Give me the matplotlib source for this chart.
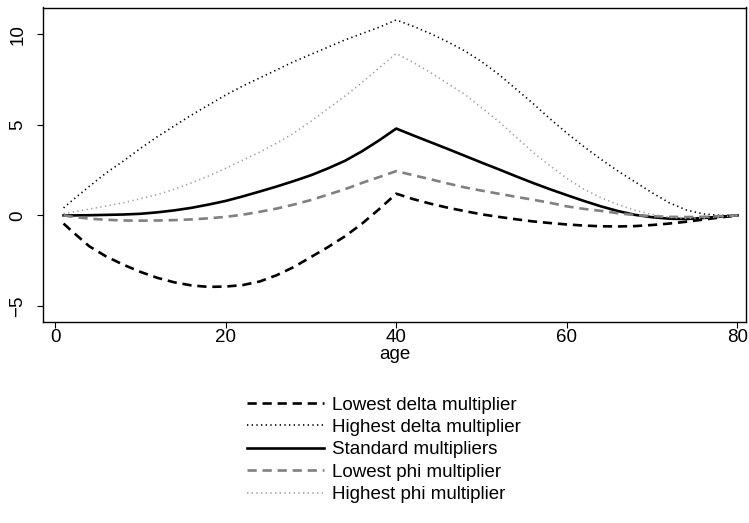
import matplotlib
matplotlib.use('Agg')
import matplotlib.pyplot as plt

plt.rcParams['font.family'] = ['Liberation Sans', 'DejaVu Sans']

# %%
age = [1, 2, 4, 6, 8, 10, 12, 14, 16, 18, 20, 22, 24, 26, 28, 30, 32, 34, 36, 38, 40,
       42, 44, 46, 48, 50, 52, 54, 56, 58, 60, 62, 64, 66, 68, 70, 72, 74, 76, 78, 80]

lowest_delta = [-0.45, -0.88, -1.7, -2.27, -2.72, -3.12, -3.45, -3.7, -3.87, -3.95, -3.93,
                -3.85, -3.65, -3.3, -2.85, -2.3, -1.75, -1.15, -0.45, 0.35, 1.2,
                0.9, 0.65, 0.43, 0.24, 0.06, -0.08, -0.21, -0.33, -0.42, -0.5,
                -0.56, -0.6, -0.61, -0.59, -0.53, -0.45, -0.35, -0.23, -0.11, 0.0]
highest_delta = [0.42, 0.82, 1.6, 2.35, 3.0, 3.7, 4.35, 4.95, 5.55, 6.1, 6.65,
                 7.15, 7.6, 8.05, 8.5, 8.9, 9.3, 9.7, 10.05, 10.4, 10.8,
                 10.45, 10.05, 9.6, 9.1, 8.5, 7.8, 7.0, 6.2, 5.35, 4.55,
                 3.8, 3.1, 2.45, 1.85, 1.25, 0.7, 0.3, 0.08, 0.0, 0.0]
standard = [0.0, 0.0, 0.01, 0.03, 0.05, 0.09, 0.17, 0.28, 0.42, 0.6, 0.8,
            1.05, 1.32, 1.6, 1.9, 2.22, 2.6, 3.02, 3.55, 4.15, 4.8,
            4.42, 4.05, 3.68, 3.3, 2.92, 2.55, 2.17, 1.8, 1.45, 1.12,
            0.8, 0.5, 0.24, 0.03, -0.1, -0.18, -0.2, -0.14, -0.07, 0.0]
lowest_phi = [0.0, -0.07, -0.18, -0.24, -0.28, -0.29, -0.28, -0.26, -0.22, -0.16, -0.08,
              0.04, 0.2, 0.38, 0.6, 0.85, 1.15, 1.45, 1.8, 2.12, 2.45,
              2.22, 2.0, 1.77, 1.55, 1.37, 1.2, 1.03, 0.87, 0.7, 0.5,
              0.36, 0.25, 0.12, 0.02, -0.04, -0.08, -0.09, -0.08, -0.04, 0.0]
highest_phi = [0.1, 0.18, 0.35, 0.52, 0.7, 0.92, 1.15, 1.45, 1.8, 2.18, 2.6,
               3.05, 3.5, 4.0, 4.55, 5.2, 5.9, 6.6, 7.35, 8.15, 8.95,
               8.45, 7.9, 7.3, 6.7, 5.95, 5.2, 4.35, 3.5, 2.75, 2.05,
               1.45, 0.98, 0.6, 0.28, 0.05, -0.1, -0.16, -0.14, -0.08, 0.0]

labels = ['Lowest delta multiplier', 'Highest delta multiplier', 'Standard multipliers',
          'Lowest phi multiplier', 'Highest phi multiplier']

# %%
FS = 13.5
fig = plt.figure(figsize=(7.49, 5.23), dpi=100)
ax = fig.add_axes([43 / 749, 1 - 322 / 523, (746 - 43) / 749, (322 - 7.5) / 523])

series = [
  (lowest_delta, dict(color='black', lw=1.9, dashes=(3.5, 2.2))),
  (highest_delta, dict(color='black', lw=1.2, dashes=(0.8, 2.0))),
  (standard, dict(color='black', lw=1.9)),
  (lowest_phi, dict(color='#808080', lw=1.9, dashes=(3.5, 2.2))),
  (highest_phi, dict(color='#a0a0a0', lw=1.2, dashes=(0.8, 2.0))),
]
for (vals, style), label in zip(series, labels):
  ax.plot(age, vals, label=label, **style)

ax.set_xlim(-1.41, 81.0)
ax.set_ylim(-5.89, 11.49)
ax.set_xticks([0, 20, 40, 60, 80])
ax.set_yticks([-5, 0, 5, 10])
ax.set_yticklabels(['\u22125', '0', '5', '10'], rotation=90, va='center')
ax.tick_params(labelsize=FS, length=4, width=0.8)
ax.tick_params(axis='x', pad=1)
ax.tick_params(axis='y', pad=8)
ax.set_xlabel('age', fontsize=FS, labelpad=0)
for s in ax.spines.values():
  s.set_linewidth(1.0)

handles, labs = ax.get_legend_handles_labels()
fig.legend(handles, labs, loc='upper left', bbox_to_anchor=(247 / 749, 1 - 396.5 / 523),
           frameon=False, fontsize=FS, handlelength=4.1, handletextpad=0.43,
           labelspacing=0.28, borderpad=0, borderaxespad=0)

fig.savefig('out.png', dpi=100)
